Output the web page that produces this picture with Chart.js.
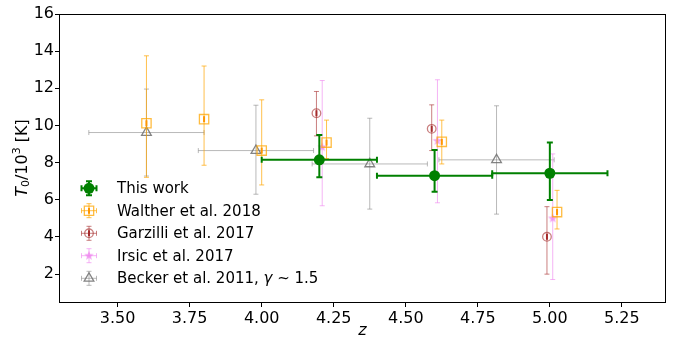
<!DOCTYPE html>
<html>
<head>
<meta charset="utf-8">
<script src="https://cdn.jsdelivr.net/npm/chart.js@4.4.0/dist/chart.umd.min.js"></script>
<style>
  html, body { margin: 0; padding: 0; background: #fff; }
  canvas { display: block; }
</style>
</head>
<body>
<canvas id="grafico" width="673" height="341"></canvas>
<script>
// ---- dados ----
const zThisWork = [4.2, 4.6, 5.0];
const tThisWork = [8.15, 7.30, 7.43];
const tThisWorkLo = [0.94, 0.86, 1.44];
const tThisWorkHi = [1.34, 1.38, 1.65];
const zThisWorkErr = [0.2, 0.2, 0.2];

const zWalther = [3.6, 3.8, 4.0, 4.225, 4.625, 5.025];
const tWalther = [10.12, 10.34, 8.65, 9.08, 9.12, 5.34];
const tWaltherLo = [2.91, 2.48, 1.85, 0.86, 1.19, 0.91];
const tWaltherHi = [3.63, 2.86, 2.73, 1.21, 1.17, 1.17];

const zGarzilli = [4.19, 4.59, 4.99];
const tGarzilli = [10.66, 9.82, 4.01];
const tGarzilliLo = [1.22, 1.17, 2.01];
const tGarzilliHi = [1.17, 1.29, 1.62];

const zIrsic = [4.21, 4.61, 5.01];
const tIrsic = [8.83, 9.17, 5.0];
const tIrsicLo = [3.15, 3.33, 3.29];
const tIrsicHi = [3.59, 3.29, 3.47];

const zBecker = [3.6, 3.98, 4.375, 4.815];
const tBecker = [9.62, 8.65, 7.93, 8.15];
const tBeckerLo = [2.34, 2.35, 2.43, 2.92];
const tBeckerHi = [2.34, 2.44, 2.46, 2.91];
const zBeckerErr = [0.2, 0.2, 0.2, 0.2];

const xTicks = [3.5, 3.75, 4.0, 4.25, 4.5, 4.75, 5.0, 5.25];
const yTicks = [2, 4, 6, 8, 10, 12, 14, 16];

const FONTE = '"DejaVu Sans", sans-serif';

// estrela preenchida (marcador "*")
function criarEstrela(cor, r) {
  const c = document.createElement('canvas');
  const s = Math.ceil(r * 2 + 2);
  c.width = s; c.height = s;
  const g = c.getContext('2d');
  g.beginPath();
  for (let k = 0; k < 10; k++) {
    const raio = k % 2 === 0 ? r : r * 0.42;
    const ang = -Math.PI / 2 + k * Math.PI / 5;
    const px = s / 2 + raio * Math.cos(ang);
    const py = s / 2 + raio * Math.sin(ang);
    if (k === 0) g.moveTo(px, py); else g.lineTo(px, py);
  }
  g.closePath();
  g.fillStyle = cor;
  g.fill();
  return c;
}

function pontos(zs, ts) {
  return zs.map((z, i) => ({ x: z, y: ts[i] }));
}

const series = [
  {
    label: 'This work', data: pontos(zThisWork, tThisWork),
    lo: tThisWorkLo, hi: tThisWorkHi, zerr: zThisWorkErr,
    cor: '#008000', corMarcador: '#008000', preenchido: true,
    pointStyle: 'circle', raio: 5.5, largura: 2, cap: 3, barraInterna: false
  },
  {
    label: 'Walther et al. 2018', data: pontos(zWalther, tWalther),
    lo: tWaltherLo, hi: tWaltherHi, zerr: null,
    cor: 'rgba(255,165,0,0.7)', corMarcador: 'rgba(255,165,0,0.75)', preenchido: false,
    pointStyle: 'rect', raio: 6.6, largura: 1, cap: 2.5, barraInterna: 'rgba(255,150,0,1)'
  },
  {
    label: 'Garzilli et al. 2017', data: pontos(zGarzilli, tGarzilli),
    lo: tGarzilliLo, hi: tGarzilliHi, zerr: null,
    cor: 'rgba(165,42,42,0.6)', corMarcador: 'rgba(165,42,42,0.6)', preenchido: false,
    pointStyle: 'circle', raio: 4.3, largura: 1, cap: 2.5, barraInterna: 'rgba(165,42,42,1)'
  },
  {
    label: 'Irsic et al. 2017', data: pontos(zIrsic, tIrsic),
    lo: tIrsicLo, hi: tIrsicHi, zerr: null,
    cor: 'rgba(238,130,238,0.6)', corMarcador: 'rgba(238,130,238,0.6)', preenchido: true,
    pointStyle: criarEstrela('rgba(238,130,238,0.75)', 5), raio: 5, largura: 1, cap: 2.5, barraInterna: false
  },
  {
    label: 'Becker et al. 2011, γ ~ 1.5', data: pontos(zBecker, tBecker),
    lo: tBeckerLo, hi: tBeckerHi, zerr: zBeckerErr,
    cor: 'rgba(128,128,128,0.55)', corMarcador: 'rgba(110,110,110,0.85)', preenchido: false,
    pointStyle: 'triangle', raio: 5.6, largura: 1, cap: 2.5, barraInterna: false,
    // pedaços do rótulo: o γ vai em itálico
    partesRotulo: [['Becker et al. 2011, ', false], ['γ', true], [' ~ 1.5', false]]
  }
];

const linhaLegenda = [188.3, 210.7, 233.3, 255.7, 278.3];

function desenharErros(ctx, sx, sy, s) {
  ctx.save();
  ctx.strokeStyle = s.cor;
  ctx.lineWidth = s.largura;
  ctx.lineCap = 'butt';
  s.data.forEach((p, i) => {
    const x = sx.getPixelForValue(p.x);
    const y = sy.getPixelForValue(p.y);
    const yTop = sy.getPixelForValue(p.y + s.hi[i]);
    const yBot = sy.getPixelForValue(p.y - s.lo[i]);
    ctx.beginPath();
    ctx.moveTo(x, yTop); ctx.lineTo(x, yBot);
    ctx.moveTo(x - s.cap, yTop); ctx.lineTo(x + s.cap, yTop);
    ctx.moveTo(x - s.cap, yBot); ctx.lineTo(x + s.cap, yBot);
    if (s.zerr) {
      const xL = sx.getPixelForValue(p.x - s.zerr[i]);
      const xR = sx.getPixelForValue(p.x + s.zerr[i]);
      ctx.moveTo(xL, y); ctx.lineTo(xR, y);
      ctx.moveTo(xL, y - s.cap); ctx.lineTo(xL, y + s.cap);
      ctx.moveTo(xR, y - s.cap); ctx.lineTo(xR, y + s.cap);
    }
    ctx.stroke();
  });
  ctx.restore();
}

function desenharBarraInterna(ctx, x, y, s) {
  if (!s.barraInterna) return;
  ctx.save();
  ctx.strokeStyle = s.barraInterna;
  ctx.lineWidth = 2;
  ctx.beginPath();
  ctx.moveTo(x, y - 3); ctx.lineTo(x, y + 3);
  ctx.stroke();
  ctx.restore();
}

function desenharMarcador(ctx, x, y, s) {
  ctx.save();
  ctx.strokeStyle = s.corMarcador;
  ctx.fillStyle = s.preenchido ? s.corMarcador : 'rgba(0,0,0,0)';
  ctx.lineWidth = s.preenchido ? 0 : 1.3;
  Chart.helpers.drawPoint(ctx, { pointStyle: s.pointStyle, radius: s.raio, rotation: 0, borderWidth: s.preenchido ? 0 : 1.3 }, x, y);
  ctx.restore();
}

const pluginErros = {
  id: 'erros',
  beforeDatasetDraw(chart, args) {
    desenharErros(chart.ctx, chart.scales.x, chart.scales.y, series[args.index]);
  },
  afterDatasetDraw(chart, args) {
    const s = series[args.index];
    s.data.forEach(p => {
      desenharBarraInterna(chart.ctx, chart.scales.x.getPixelForValue(p.x), chart.scales.y.getPixelForValue(p.y), s);
    });
  },
  afterDraw(chart) {
    const ctx = chart.ctx;
    const a = chart.chartArea;

    // moldura
    ctx.save();
    ctx.strokeStyle = '#000';
    ctx.lineWidth = 1;
    ctx.strokeRect(Math.round(a.left) - 0.5, Math.round(a.top) + 0.5, Math.round(a.right - a.left) + 1, Math.round(a.bottom - a.top));
    ctx.restore();

    // legenda
    series.forEach((s, i) => {
      const lx = 89, ly = linhaLegenda[i];
      const leg = Object.assign({}, s, { data: [] });
      ctx.save();
      ctx.strokeStyle = s.cor;
      ctx.lineWidth = s.largura;
      ctx.beginPath();
      ctx.moveTo(lx - 7.5, ly); ctx.lineTo(lx + 7.5, ly);
      ctx.moveTo(lx - 7.5, ly - s.cap); ctx.lineTo(lx - 7.5, ly + s.cap);
      ctx.moveTo(lx + 7.5, ly - s.cap); ctx.lineTo(lx + 7.5, ly + s.cap);
      ctx.moveTo(lx, ly - 7); ctx.lineTo(lx, ly + 7);
      ctx.moveTo(lx - s.cap, ly - 7); ctx.lineTo(lx + s.cap, ly - 7);
      ctx.moveTo(lx - s.cap, ly + 7); ctx.lineTo(lx + s.cap, ly + 7);
      ctx.stroke();
      ctx.restore();
      desenharMarcador(ctx, lx, ly, leg);
      desenharBarraInterna(ctx, lx, ly, s);
      ctx.save();
      ctx.fillStyle = '#000';
      ctx.textBaseline = 'middle';
      ctx.textAlign = 'left';
      const partes = s.partesRotulo || [[s.label, false]];
      let tx = 117;
      partes.forEach(([txt, ital]) => {
        ctx.font = (ital ? 'italic ' : '') + '15px ' + FONTE;
        ctx.fillText(txt, tx, ly + 1);
        tx += ctx.measureText(txt).width;
      });
      ctx.restore();
    });

    // título do eixo x
    ctx.save();
    ctx.fillStyle = '#000';
    ctx.font = 'italic 16px ' + FONTE;
    ctx.textAlign = 'center';
    ctx.textBaseline = 'middle';
    ctx.fillText('z', (a.left + a.right) / 2, 331);
    ctx.restore();

    // título do eixo y: T_0/10^3 [K]
    ctx.save();
    ctx.translate(23, (a.top + a.bottom) / 2);
    ctx.rotate(-Math.PI / 2);
    ctx.fillStyle = '#000';
    ctx.textBaseline = 'middle';
    const partes = [
      { t: 'T', f: 'italic 16px ' + FONTE, dy: 0 },
      { t: '0', f: '11px ' + FONTE, dy: 3 },
      { t: '/10', f: '16px ' + FONTE, dy: 0 },
      { t: '3', f: '11px ' + FONTE, dy: -6 },
      { t: ' [K]', f: '16px ' + FONTE, dy: 0 }
    ];
    let total = 0;
    partes.forEach(p => { ctx.font = p.f; total += ctx.measureText(p.t).width; });
    let cx = -total / 2;
    partes.forEach(p => {
      ctx.font = p.f;
      ctx.textAlign = 'left';
      ctx.fillText(p.t, cx, p.dy);
      cx += ctx.measureText(p.t).width;
    });
    ctx.restore();
  }
};

const datasets = series.map(s => ({
  label: s.label,
  data: s.data,
  showLine: false,
  pointStyle: s.pointStyle,
  pointRadius: s.raio,
  pointHoverRadius: s.raio,
  pointBorderWidth: s.preenchido ? 0 : 1.3,
  pointBorderColor: s.corMarcador,
  pointBackgroundColor: s.preenchido ? s.corMarcador : 'rgba(0,0,0,0)'
}));

const ctx = document.getElementById('grafico').getContext('2d');
new Chart(ctx, {
  type: 'scatter',
  data: { datasets },
  options: {
    responsive: false,
    animation: false,
    layout: { padding: { top: 14, right: 7, left: 0, bottom: 0 } },
    plugins: {
      legend: { display: false },
      tooltip: { enabled: false }
    },
    scales: {
      x: {
        type: 'linear',
        min: 3.3,
        max: 5.4,
        afterFit: (scale) => { scale.height = 39; },
        afterBuildTicks: (scale) => { scale.ticks = xTicks.map(v => ({ value: v })); },
        ticks: {
          color: '#000',
          font: { family: FONTE, size: 16 },
          padding: 2,
          maxRotation: 0,
          callback: (v) => v.toFixed(2)
        },
        grid: { drawOnChartArea: false, drawTicks: true, tickLength: 5, color: '#000', lineWidth: 1 },
        border: { display: false }
      },
      y: {
        type: 'linear',
        min: 0.5,
        max: 16,
        afterFit: (scale) => { scale.width = 60; },
        afterBuildTicks: (scale) => { scale.ticks = yTicks.map(v => ({ value: v })); },
        ticks: {
          color: '#000',
          font: { family: FONTE, size: 16 },
          padding: 1,
          callback: (v) => String(v)
        },
        grid: { drawOnChartArea: false, drawTicks: true, tickLength: 5, color: '#000', lineWidth: 1 },
        border: { display: false }
      }
    }
  },
  plugins: [pluginErros]
});
</script>
</body>
</html>
